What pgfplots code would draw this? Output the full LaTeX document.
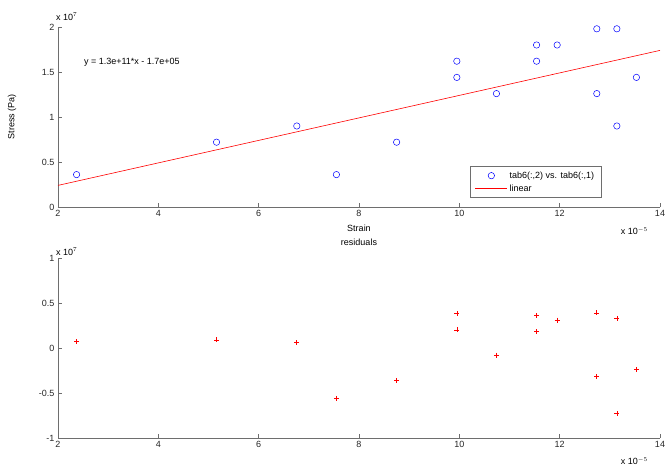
\documentclass[border=0pt]{standalone}
\usepackage{fontspec}
\setmainfont{Liberation Sans}
\usepackage{pgfplots}
\pgfplotsset{compat=1.18}
\definecolor{axgray}{RGB}{110,110,110}
\pgfplotsset{
  markleg/.style={legend image code/.code={\draw[mark repeat=2,mark phase=2,##1] plot coordinates {(0pt,0pt) (16pt,0pt) (32pt,0pt)};}},
  lineleg/.style={legend image code/.code={\draw[##1] (0pt,0pt) -- (32pt,0pt);}},
}
\begin{document}
\begin{tikzpicture}[x=1pt,y=1pt]
\useasboundingbox (0,0) rectangle (665,468);
\pgfplotsset{
  mystyle/.style={
    scale only axis, width=602pt, height=180pt,
    axis x line=bottom, axis y line=left,
    axis line style={-, draw=axgray, line width=0.9pt},
    tick align=inside, major tick length=4pt,
    tick style={axgray, line width=0.6pt},
    xmin=2, xmax=14, xtick={2,4,6,8,10,12,14},
    ticklabel style={font=\fontsize{9}{10}\selectfont, text=black!85},
    /pgf/number format/assume math mode=true,
    scaled ticks=false,
    clip=false,
  }
}
% ---------- top axis ----------
\begin{axis}[mystyle, at={(58pt,261pt)}, anchor=south west,
  ymin=0, ymax=2, ytick={0,0.5,1,1.5,2},
  legend style={at={(0.684,0.05)}, anchor=south west, font=\fontsize{9}{11}\selectfont,
    draw=axgray, line width=0.6pt, inner xsep=5pt, inner ysep=3pt, row sep=1pt,
    /tikz/every even column/.append style={column sep=8pt}},
  legend cell align=left,
]
\addplot[only marks, mark=o, mark size=3.2pt, blue, mark options={line width=0.5pt}, markleg]
  coordinates {
  (2.37,0.36) (5.16,0.72) (6.76,0.90) (7.55,0.36) (8.75,0.72)
  (9.95,1.44) (9.95,1.62) (10.74,1.26) (11.54,1.80) (11.54,1.62)
  (11.95,1.80) (12.74,1.98) (12.74,1.26) (13.14,1.98) (13.14,0.90)
  (13.53,1.44)};
\addlegendentry{tab6(:,2) vs. tab6(:,1)}
\addplot[red, line width=0.6pt, lineleg]
  coordinates {(2,0.24) (14,1.74)};
\addlegendentry{linear}
\node[anchor=west, font=\fontsize{9}{10}\selectfont] at (axis cs:2.45,1.61) {y = 1.3e+11*x - 1.7e+05};
\node[anchor=south west, font=\fontsize{9}{10}\selectfont, inner sep=0pt] at ([xshift=-2pt,yshift=6pt]rel axis cs:0,1) {x 10$^{7}$};
\node[anchor=north east, font=\fontsize{9}{10}\selectfont, inner sep=0pt] at ([xshift=-12pt,yshift=-20pt]rel axis cs:1,0) {x 10$^{-5}$};
\node[font=\fontsize{9}{10}\selectfont] at ([yshift=-21pt]rel axis cs:0.5,0) {Strain};
\node[font=\fontsize{9}{10}\selectfont, rotate=90] at ([xshift=-46pt]rel axis cs:0,0.5) {Stress (Pa)};
\end{axis}
% ---------- bottom axis ----------
\begin{axis}[mystyle, at={(58pt,30pt)}, anchor=south west,
  ymin=-1, ymax=1, ytick={-1,-0.5,0,0.5,1},
]
\addplot[only marks, mark=+, mark size=2.5pt, red, mark options={line width=0.6pt}]
  coordinates {
  (2.37,0.07) (5.16,0.09) (6.76,0.06) (7.55,-0.56) (8.75,-0.36)
  (9.95,0.38) (9.95,0.20) (10.74,-0.08) (11.54,0.36) (11.54,0.18)
  (11.95,0.31) (12.74,0.39) (12.74,-0.32) (13.14,0.33) (13.14,-0.73)
  (13.53,-0.24)};
\node[font=\fontsize{9}{10}\selectfont] at ([yshift=16pt]rel axis cs:0.5,1) {residuals};
\node[anchor=south west, font=\fontsize{9}{10}\selectfont, inner sep=0pt] at ([xshift=-2pt,yshift=2pt]rel axis cs:0,1) {x 10$^{7}$};
\node[anchor=north east, font=\fontsize{9}{10}\selectfont, inner sep=0pt] at ([xshift=-12pt,yshift=-19pt]rel axis cs:1,0) {x 10$^{-5}$};
\end{axis}
\end{tikzpicture}
\end{document}
